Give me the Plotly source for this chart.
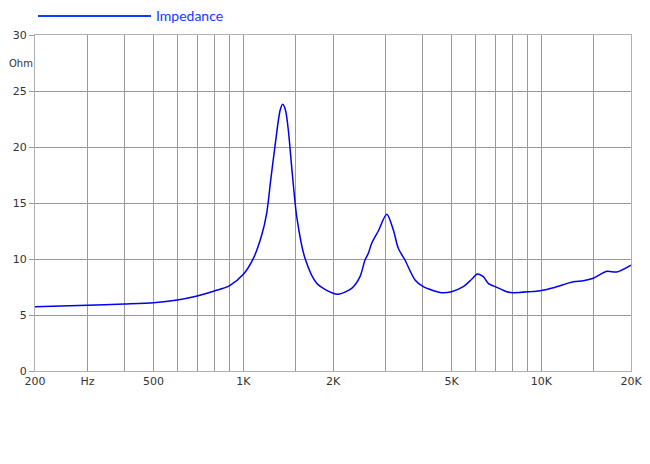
import numpy as np
import plotly.graph_objects as go

# Impedance curve
freq_hz = [200, 300, 400, 500, 600, 700, 800, 900, 1000, 1081, 1153, 1198, 1236, 1277,
           1330, 1356, 1385, 1416, 1460, 1514, 1611, 1763, 2000, 2084, 2311, 2464, 2561,
           2628, 2697, 2838, 3030, 3188, 3312, 3488, 3770, 4018, 4288, 4632, 5000, 5471,
           5842, 6100, 6390, 6640, 7086, 7658, 8055, 9163, 9902, 10980, 12808, 13836,
           14946, 16580, 17907, 20000]
impedance_ohm = [5.74, 5.87, 5.98, 6.10, 6.34, 6.70, 7.14, 7.62, 8.63, 10.06, 12.14, 14.08,
                 17.05, 20.03, 23.3, 23.81, 23.3, 21.52, 17.65, 13.63, 10.06, 7.83, 6.94,
                 6.85, 7.38, 8.42, 9.91, 10.51, 11.40, 12.5, 13.99, 12.59, 10.96, 9.91, 8.13,
                 7.53, 7.23, 6.99, 7.08, 7.53, 8.19, 8.66, 8.42, 7.83, 7.47, 7.08, 6.99, 7.08,
                 7.17, 7.44, 7.97, 8.06, 8.28, 8.90, 8.84, 9.46]

x_grid = [200, 300, 400, 500, 600, 700, 800, 900, 1000, 1500, 2000, 3000, 4000, 5000,
          6000, 7000, 8000, 9000, 10000, 15000, 20000]
x_labels = {200: "200", 300: "Hz", 500: "500", 1000: "1K", 2000: "2K", 5000: "5K",
            10000: "10K", 20000: "20K"}
y_ticks = [0, 5, 10, 15, 20, 25, 30]
series_name = "Impedance"
y_unit = "Ohm"

curve_color = "#0000ee"
legend_color = "#0a3cff"
grid_color = "#9a9a9a"
font_family = "DejaVu Sans, Verdana, sans-serif"

fig = go.Figure()
fig.add_trace(go.Scatter(
    x=freq_hz, y=impedance_ohm, mode="lines", name=series_name,
    line=dict(color=curve_color, width=1.5, shape="spline", smoothing=0.8),
    showlegend=False, hoverinfo="x+y"))

# page body has an 8px margin, so the figure is sized/offset to compensate
fig.update_layout(
    width=642, height=456,
    margin=dict(l=27, r=19, t=27, b=93),
    paper_bgcolor="white", plot_bgcolor="white",
    font=dict(family=font_family, size=11, color="#333333"),
    xaxis=dict(type="log", range=[np.log10(200), np.log10(20000)],
               tickmode="array", tickvals=x_grid,
               ticktext=[x_labels.get(v, "") for v in x_grid],
               showgrid=True, gridcolor=grid_color, gridwidth=1,
               ticks="", showline=True, linecolor="#b0b0b0", mirror=True,
               zeroline=False, automargin=False,
               tickfont=dict(size=11, color="#333333")),
    yaxis=dict(range=[0, 30], tickmode="array", tickvals=y_ticks,
               ticktext=[str(v) for v in y_ticks],
               showgrid=True, gridcolor=grid_color, gridwidth=1,
               ticks="outside", ticklen=5, tickcolor="#9a9a9a",
               showline=True, linecolor="#b0b0b0", mirror=True,
               zeroline=False, automargin=False,
               tickfont=dict(size=11, color="#333333")),
)

# unit label
fig.add_annotation(text=y_unit, xref="paper", yref="y", x=(8 - 35) / 596, y=27.5,
                   xanchor="left", yanchor="middle", showarrow=False, borderpad=0,
                   font=dict(size=10, color="#333333", family=font_family))

# custom legend: long line + text
fig.add_shape(type="line", xref="paper", yref="paper",
              x0=(38 - 35) / 596, x1=(151 - 35) / 596,
              y0=(371 - 16) / 336, y1=(371 - 16) / 336,
              line=dict(color=legend_color, width=2))
fig.add_annotation(text=series_name, xref="paper", yref="paper",
                   x=(154 - 35) / 596, y=(371 - 16) / 336,
                   xanchor="left", yanchor="middle", showarrow=False,
                   font=dict(size=14, color=legend_color, family="Lato, sans-serif"))

fig.write_html("out.html")
